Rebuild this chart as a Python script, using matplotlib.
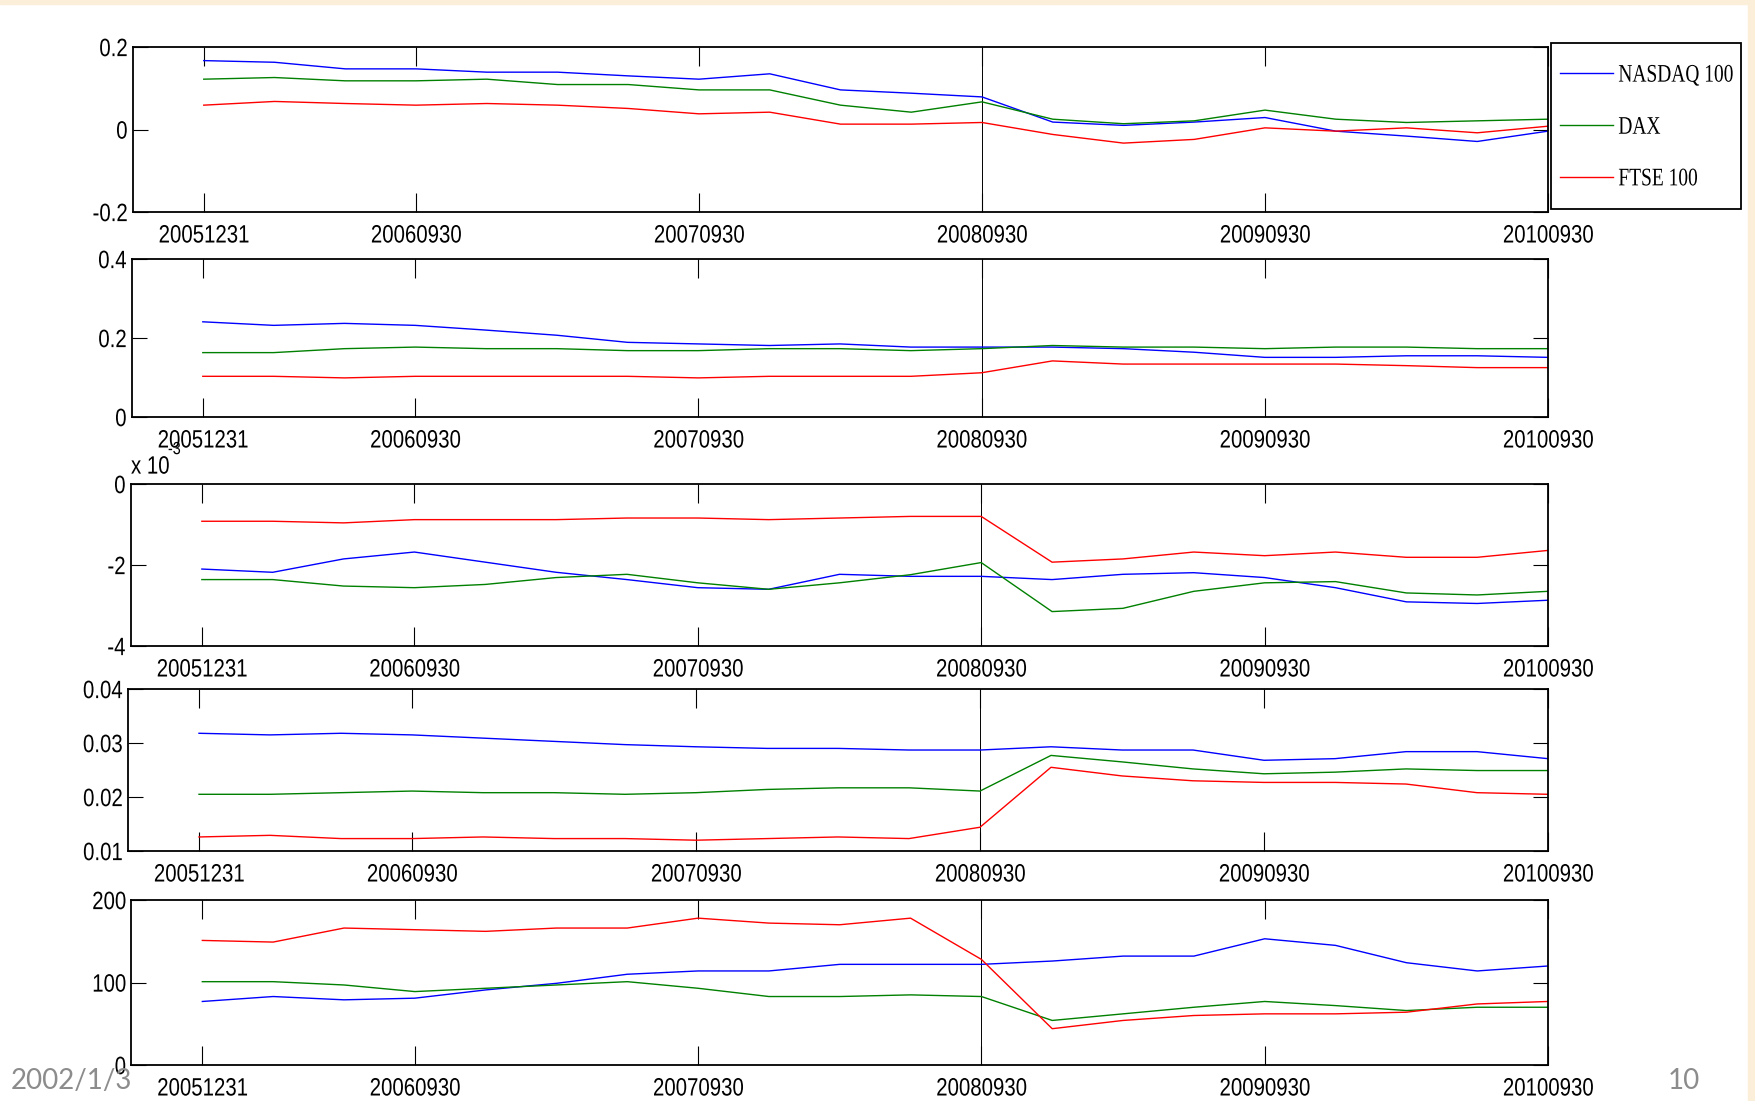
import numpy as np
import matplotlib
matplotlib.use("Agg")
import matplotlib.pyplot as plt
from matplotlib.patches import Rectangle
from matplotlib.patheffects import AbstractPathEffect
from matplotlib.ticker import FuncFormatter
from matplotlib.transforms import Affine2D

W, H = 1756, 1101

# quarter-end dates, 2005Q4 .. 2010Q3
DATES = ["20051231", "20060331", "20060630", "20060930", "20061231",
         "20070331", "20070630", "20070930", "20071231", "20080331",
         "20080630", "20080930", "20081231", "20090331", "20090630",
         "20090930", "20091231", "20100331", "20100630", "20100930"]
TICK_DATES = ["20051231", "20060930", "20070930", "20080930", "20090930", "20100930"]
SERIES = ["NASDAQ 100", "DAX", "FTSE 100"]
CRISIS = "20080930"

# panel 1
p1_nasdaq = [0.167, 0.163, 0.147, 0.147, 0.139, 0.139, 0.130, 0.122, 0.135, 0.096,
             0.088, 0.079, 0.018, 0.010, 0.018, 0.029, -0.004, -0.016, -0.029, -0.004]
p1_dax = [0.122, 0.126, 0.118, 0.118, 0.122, 0.109, 0.109, 0.096, 0.096, 0.059,
          0.042, 0.067, 0.025, 0.014, 0.021, 0.047, 0.025, 0.017, 0.021, 0.025]
p1_ftse = [0.059, 0.068, 0.063, 0.059, 0.063, 0.059, 0.051, 0.038, 0.042, 0.013,
           0.013, 0.017, -0.012, -0.033, -0.024, 0.004, -0.004, 0.004, -0.008, 0.008]

# panel 2
p2_nasdaq = [0.241, 0.232, 0.237, 0.232, 0.220, 0.207, 0.189, 0.185, 0.181, 0.185,
             0.177, 0.177, 0.177, 0.173, 0.164, 0.151, 0.151, 0.155, 0.155, 0.151]
p2_dax = [0.163, 0.163, 0.173, 0.177, 0.173, 0.173, 0.168, 0.168, 0.173, 0.173,
          0.168, 0.173, 0.181, 0.177, 0.177, 0.173, 0.177, 0.177, 0.173, 0.173]
p2_ftse = [0.103, 0.103, 0.099, 0.103, 0.103, 0.103, 0.103, 0.099, 0.103, 0.103,
           0.103, 0.112, 0.142, 0.134, 0.134, 0.134, 0.134, 0.130, 0.125, 0.125]

# panel 3 (units of 1e-3)
p3_nasdaq = [-2.10, -2.18, -1.85, -1.68, -1.93, -2.18, -2.36, -2.56, -2.60, -2.23,
             -2.28, -2.28, -2.36, -2.23, -2.19, -2.31, -2.56, -2.91, -2.95, -2.87]
p3_dax = [-2.36, -2.36, -2.52, -2.56, -2.48, -2.31, -2.23, -2.44, -2.60, -2.44,
          -2.24, -1.94, -3.15, -3.07, -2.65, -2.44, -2.41, -2.69, -2.74, -2.65]
p3_ftse = [-0.92, -0.92, -0.96, -0.88, -0.88, -0.88, -0.84, -0.84, -0.88, -0.84,
           -0.80, -0.80, -1.93, -1.85, -1.68, -1.77, -1.68, -1.81, -1.81, -1.64]

# panel 4
p4_nasdaq = [0.0318, 0.0315, 0.0318, 0.0315, 0.0309, 0.0303, 0.0297, 0.0293, 0.0290, 0.0290,
             0.0287, 0.0287, 0.0293, 0.0287, 0.0287, 0.0268, 0.0271, 0.0284, 0.0284, 0.0271]
p4_dax = [0.0205, 0.0205, 0.0208, 0.0211, 0.0208, 0.0208, 0.0205, 0.0208, 0.0214, 0.0217,
          0.0217, 0.0211, 0.0277, 0.0265, 0.0252, 0.0243, 0.0246, 0.0252, 0.0249, 0.0249]
p4_ftse = [0.0126, 0.0129, 0.0123, 0.0123, 0.0126, 0.0123, 0.0123, 0.0120, 0.0123, 0.0126,
           0.0123, 0.0144, 0.0255, 0.0239, 0.0230, 0.0227, 0.0227, 0.0224, 0.0208, 0.0205]

# panel 5
p5_nasdaq = [77, 83, 79, 81, 91, 99, 110, 114, 114, 122, 122, 122, 126, 132, 132, 153, 145, 124, 114, 120]
p5_dax = [101, 101, 97, 89, 93, 97, 101, 93, 83, 83, 85, 83, 54, 62, 70, 77, 72, 66, 70, 70]
p5_ftse = [151, 149, 166, 164, 162, 166, 166, 178, 172, 170, 178, 128, 44, 54, 60, 62, 62, 64, 74, 77]

PANELS = [
    ((p1_nasdaq, p1_dax, p1_ftse), 1.0, (-0.2, 0.2), [-0.2, 0, 0.2]),
    ((p2_nasdaq, p2_dax, p2_ftse), 1.0, (0, 0.4), [0, 0.2, 0.4]),
    ((p3_nasdaq, p3_dax, p3_ftse), 1e-3, (-4e-3, 0), [-4e-3, -2e-3, 0]),
    ((p4_nasdaq, p4_dax, p4_ftse), 1.0, (0.01, 0.04), [0.01, 0.02, 0.03, 0.04]),
    ((p5_nasdaq, p5_dax, p5_ftse), 1.0, (0, 200), [0, 100, 200]),
]
# axes boxes in pixels: left, right, top, bottom
BOXES = [(133, 1548, 47, 212), (132, 1548, 259, 417), (131, 1548, 484, 646),
         (128, 1548, 689, 851), (131.5, 1548, 900, 1065)]
COLORS = ["#0000FF", "#008000", "#FF0000"]
TICK_FS = 14.7


class StretchY(AbstractPathEffect):
    """Draw text taller than normal (the source picture was squeezed sideways)."""

    def __init__(self, factor):
        super().__init__()
        self.factor = factor

    def draw_path(self, renderer, gc, tpath, affine, rgbFace=None):
        box = tpath.get_extents(affine)
        cy = 0.5 * (box.y0 + box.y1)
        stretch = Affine2D().translate(0, -cy).scale(1, self.factor).translate(0, cy)
        renderer.draw_path(gc, tpath, affine + stretch, rgbFace)


TALL = [StretchY(1.23)]

plt.rcParams["axes.unicode_minus"] = False
plt.rcParams["font.family"] = ["Liberation Sans", "DejaVu Sans"]

fig = plt.figure(figsize=(W / 100, H / 100), dpi=100, facecolor="white")

# slide background strips
cream = "#FBEFDA"
fig.add_artist(Rectangle((0, 1 - 4 / H), 1, 4 / H, transform=fig.transFigure,
                         color=cream, zorder=0))
fig.add_artist(Rectangle((1748 / W, 0), 8 / W, 1, transform=fig.transFigure,
                         color=cream, zorder=0))

x = np.arange(len(DATES))
tick_pos = [DATES.index(d) for d in TICK_DATES]
axes = []
for (series, scale, ylim, yticks), (l, r, t, b) in zip(PANELS, BOXES):
    ax = fig.add_axes([l / W, 1 - b / H, (r - l) / W, (b - t) / H])
    ax.axvline(DATES.index(CRISIS), color="black", lw=0.7, zorder=1)
    for vals, c, name in zip(series, COLORS, SERIES):
        ax.plot(x, np.array(vals) * scale, color=c, lw=1.0, label=name, zorder=2)
    ax.set_xlim(-1, len(DATES) - 1)
    ax.set_ylim(*ylim)
    ax.set_xticks(tick_pos)
    ax.set_xticklabels(TICK_DATES)
    ax.set_yticks(yticks)
    ax.tick_params(axis="both", direction="in", top=True, right=True,
                   width=0.8, labelsize=TICK_FS, colors="black")
    ax.tick_params(axis="x", length=14, pad=10)
    ax.tick_params(axis="y", length=11, pad=4)
    for s in ax.spines.values():
        s.set_linewidth(1.3)
    axes.append(ax)

axes[0].yaxis.set_major_formatter(FuncFormatter(lambda v, p: f"{v:g}"))
axes[1].yaxis.set_major_formatter(FuncFormatter(lambda v, p: f"{v:g}"))
axes[2].yaxis.set_major_formatter(FuncFormatter(lambda v, p: f"{v * 1e3:g}"))
axes[3].yaxis.set_major_formatter(FuncFormatter(lambda v, p: f"{v:.2f}"))

for ax in axes:
    for tick in ax.xaxis.get_major_ticks() + ax.yaxis.get_major_ticks():
        tick.label1.set_path_effects(TALL)

# MATLAB style exponent label
fig.text(131 / W, 1 - 472 / H, "x 10", fontsize=TICK_FS, ha="left", va="baseline",
         path_effects=TALL)
fig.text(168 / W, 1 - 453 / H, "-3", fontsize=TICK_FS * 0.7, ha="left", va="baseline",
         path_effects=TALL)

# legend
handles, labels = axes[0].get_legend_handles_labels()
leg = fig.legend(handles, labels, loc="center", bbox_to_anchor=(1647 / W, 1 - 127 / H),
                 frameon=False, prop={"family": "Liberation Serif", "size": 14},
                 handlelength=2.7, handletextpad=0.3, labelspacing=1.75)
for txt in leg.get_texts():
    txt.set_path_effects([StretchY(1.3)])
fig.add_artist(Rectangle((1551 / W, 1 - 209 / H), 190 / W, 166 / H,
                         transform=fig.transFigure, fill=False, ec="black", lw=1.3))

# slide footer
fig.text(11 / W, 1 - 1081 / H, "2002/1/3", color="#8C8C8C", fontsize=20,
         family="Lato", ha="left", va="center")
fig.text(1668 / W, 1 - 1081 / H, "10", color="#8C8C8C", fontsize=20,
         family="Lato", ha="left", va="center")

fig.savefig("out.png", dpi=100, facecolor=fig.get_facecolor())
